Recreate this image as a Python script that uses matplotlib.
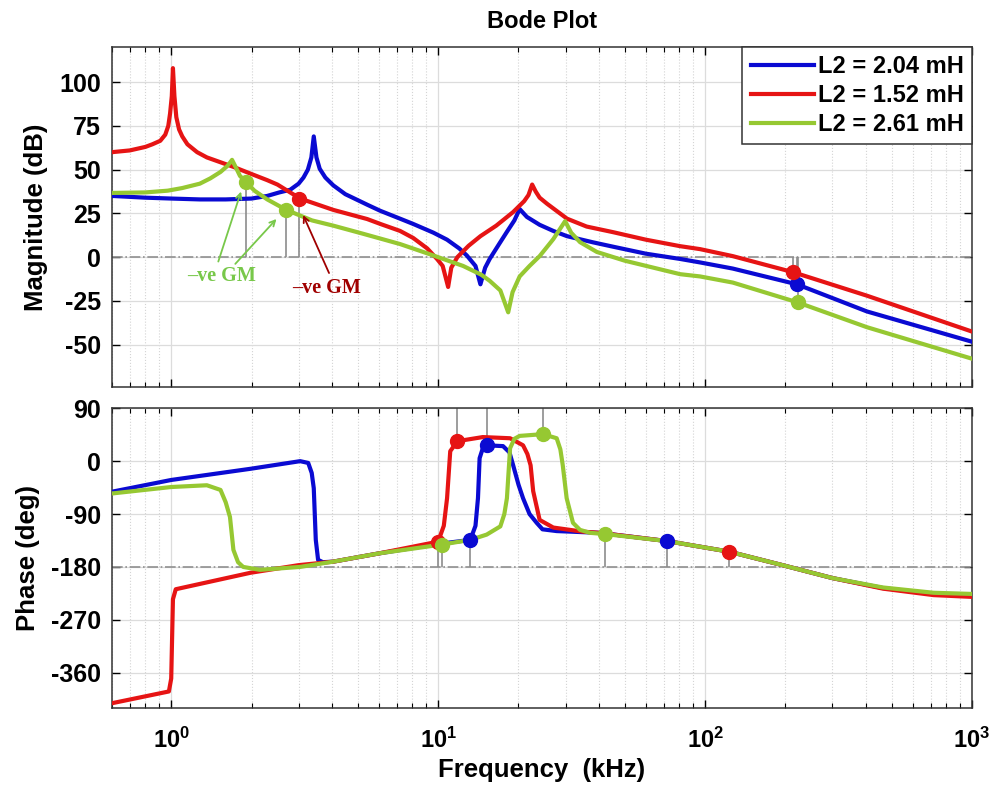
import numpy as np
import matplotlib
matplotlib.use("Agg")
from matplotlib import pyplot as plt
from matplotlib.ticker import LogLocator, NullFormatter

plt.rcParams["font.family"] = ["Liberation Sans", "DejaVu Sans"]
plt.rcParams["font.weight"] = "bold"
plt.rcParams["axes.unicode_minus"] = False
plt.rcParams["mathtext.fontset"] = "custom"
plt.rcParams["mathtext.rm"] = "Liberation Sans:bold"
plt.rcParams["mathtext.bf"] = "Liberation Sans:bold"
plt.rcParams["mathtext.default"] = "bf"

labels = ["L2 = 2.04 mH", "L2 = 1.52 mH", "L2 = 2.61 mH"]

# magnitude (dB) vs frequency (kHz)
blue_mag_f = [0.6, 0.8, 1.0, 1.28, 1.6, 2.0, 2.29, 2.54, 2.79, 3.0, 3.13, 3.25, 3.35, 3.42,
              3.5, 3.6, 3.78, 4.05, 4.49, 5.42, 6.07, 7.2, 8.06, 9.6, 10.8, 12.0, 12.8,
              13.8, 14.4, 15.0, 15.6, 17.0, 18.1, 19.3, 20.2, 21.5, 24.0, 27.0, 30.4, 38,
              45.2, 60, 80.6, 95.8, 127, 221, 404, 1000]
blue_mag = [35, 34, 33.5, 33, 33, 33.5, 35, 37, 38.5, 42, 45.5, 50, 57, 69,
            57, 50.5, 45.5, 41, 36, 30, 26.5, 22, 19, 14, 10, 5, 1,
            -5, -15.5, -6, -1, 8, 14.5, 21, 27.5, 23, 18.5, 15, 12, 8.5,
            6, 2, -1, -3, -6.5, -15.5, -31, -48.3]

red_mag_f = [0.6, 0.7, 0.8, 0.85, 0.91, 0.95, 0.975, 0.99, 1.005, 1.015, 1.028, 1.045,
             1.07, 1.1, 1.15, 1.25, 1.36, 1.71, 2.0, 2.29, 2.5, 3.04, 4.05, 5.42, 6.07,
             7.2, 8.06, 9.1, 9.9, 10.4, 10.9, 11.2, 11.8, 13, 14.4, 16.5, 19.1, 21.0,
             21.8, 22.5, 23.2, 24.0, 25.6, 30.4, 36, 45.2, 60, 80.6, 95.8, 127, 214,
             404, 1000]
red_mag = [60, 61, 63, 64.5, 66.5, 70, 75, 82, 92, 108, 92, 80,
           73, 69, 64.5, 60, 57, 51.6, 47.5, 44, 41.5, 33.5, 27, 21.8, 19,
           15, 11, 5, -1, -5, -17, -6, 0, 6.5, 12, 18, 25.8, 32,
           35.5, 41.5, 37.5, 34, 30.5, 22, 17.5, 14.3, 10, 6.3, 4.6, 0.6, -8.6,
           -22, -42.5]

green_mag_f = [0.6, 0.8, 0.97, 1.1, 1.28, 1.4, 1.53, 1.62, 1.66, 1.69, 1.75, 1.81, 1.90,
               2.05, 2.29, 2.70, 3.37, 4.05, 5.2, 7.2, 9.3, 12.4, 14.5, 15.6, 17.1, 18.3,
               19.0, 20.2, 22, 24, 27, 29.9, 31.5, 34, 39.3, 50, 80.6, 95.8, 127, 222,
               404, 1000]
green_mag = [36.7, 37, 38, 39.5, 42, 45, 48.7, 52, 54, 55.6, 51, 46.4, 43.2,
             38, 33, 27, 21, 18, 13.5, 7.5, 1.7, -5, -10, -13.5, -19, -31.5,
             -20, -11, -5, 0.6, 10.3, 20.6, 14, 8.6, 3, -2, -9.7, -11, -14.5, -25.8,
             -40, -58]

# phase (deg) vs frequency (kHz)
blue_ph_f = [0.6, 1.0, 1.98, 3.04, 3.26, 3.36, 3.42, 3.48, 3.55, 3.7, 4.05, 6, 10, 13.2,
             13.8, 14.1, 14.3, 14.7, 15.2, 17.5, 18.5, 19.1, 20.0, 20.8, 22, 23.4, 24.6,
             27.8, 40.3, 72, 123, 195, 300, 464, 718, 1000]
blue_ph = [-52, -32, -13, 0, -3, -20, -46, -134, -168, -172, -171, -157, -141, -134,
           -110, -63, 5, 22, 27, 25.6, 15, -7, -40, -63, -90, -105, -116,
           -119, -122, -136, -154, -177, -199, -216, -226, -229]

red_ph_f = [0.6, 0.98, 1.0, 1.015, 1.04, 1.98, 3.0, 4.05, 6, 10.0, 10.5, 10.8, 11.1, 11.8,
            14.7, 18.6, 20.8, 21.6, 22.2, 22.7, 24.0, 27.0, 34.8, 40.3, 72, 123, 195, 300,
            464, 718, 1000]
red_ph = [-412, -392, -370, -235, -218, -190, -177, -171, -157, -137, -110, -63, 17, 34,
          41, 39, 27, 12, -7, -51, -100, -113, -120, -122, -136, -154, -177, -199,
          -217, -228, -231]

green_ph_f = [0.6, 1.0, 1.36, 1.53, 1.6, 1.66, 1.71, 1.78, 1.86, 2.15, 3.04, 4.05, 6, 10.3,
              13.2, 15.2, 17.1, 17.7, 18.1, 18.6, 19.3, 20.2, 24.7, 27.8, 28.7, 29.3, 30.3,
              32, 34, 37.1, 42, 72, 123, 195, 300, 464, 718, 1000]
green_ph = [-55, -44, -41, -49, -70, -95, -151, -172, -180, -185, -180, -171, -157, -142,
            -134, -125, -111, -90, -63, 22, 38, 43, 46, 39, 20, -7, -63,
            -105, -117, -122, -124, -136, -154, -177, -199, -215, -224, -226]

# margin markers
blue_gm_f, blue_gm = [221], [-15.5]
red_gm_f, red_gm = [3.0, 214], [33, -8.6]
green_gm_f, green_gm = [1.90, 2.70, 222], [43.2, 27, -25.8]
blue_pm_f, blue_pm = [13.2, 15.2, 72], [-134, 27, -136]
red_pm_f, red_pm = [10.0, 11.8, 123], [-137, 34, -154]
green_pm_f, green_pm = [10.3, 24.7, 42], [-142, 46, -124]

colors = ["#0a0ad2", "#e61414", "#96c832"]

fig = plt.figure(figsize=(10, 7.99), dpi=100)
ax1 = fig.add_axes([0.112, 0.516, 0.860, 0.425])
ax2 = fig.add_axes([0.112, 0.114, 0.860, 0.375], sharex=ax1)

mags = [(blue_mag_f, blue_mag), (red_mag_f, red_mag), (green_mag_f, green_mag)]
phs = [(blue_ph_f, blue_ph), (red_ph_f, red_ph), (green_ph_f, green_ph)]
gms = [(blue_gm_f, blue_gm), (red_gm_f, red_gm), (green_gm_f, green_gm)]
pms = [(blue_pm_f, blue_pm), (red_pm_f, red_pm), (green_pm_f, green_pm)]

# reference lines
ax1.axhline(0, color="#909090", lw=1.2, ls="-.", zorder=1)
ax2.axhline(-180, color="#909090", lw=1.2, ls="-.", zorder=1)

# stems
for (f, v) in gms:
    ax1.vlines(f, v, 0, color="#8c8c8c", lw=1.2, zorder=2)
for (f, v) in pms:
    v = np.array(v)
    ax2.vlines(f, v, np.where(v < 0, -180, 180), color="#8c8c8c", lw=1.2, zorder=2)

for c, lab, (f, m), (pf, p) in zip(colors, labels, mags, phs):
    ax1.plot(f, m, color=c, lw=3, label=lab, zorder=3, solid_joinstyle="round")
    ax2.plot(pf, p, color=c, lw=3, zorder=3, solid_joinstyle="round")
for c, (f, v) in zip(colors, gms):
    ax1.plot(f, v, "o", color=c, ms=10, zorder=4)
for c, (f, v) in zip(colors, pms):
    ax2.plot(f, v, "o", color=c, ms=10, zorder=4)

ax1.set_xscale("log")
ax1.set_xlim(0.6, 1000)
ax1.set_ylim(-74, 120)
ax1.set_yticks([-50, -25, 0, 25, 50, 75, 100])
ax2.set_ylim(-420, 90)
ax2.set_yticks([-360, -270, -180, -90, 0, 90])

for ax in (ax1, ax2):
    ax.xaxis.set_major_locator(LogLocator(base=10, numticks=10))
    ax.xaxis.set_minor_locator(LogLocator(base=10, subs=np.arange(2, 10), numticks=20))
    ax.xaxis.set_minor_formatter(NullFormatter())
    ax.tick_params(which="both", direction="in", top=True, right=True, labelsize=18)
    ax.tick_params(which="major", length=6, width=1)
    ax.tick_params(which="minor", length=3.5, width=0.8)
    ax.tick_params(axis="y", pad=8)
    ax.grid(which="major", color="#dcdcdc", lw=0.9, ls="-")
    ax.grid(which="minor", axis="x", color="#d4d4d4", lw=0.8, ls=":")
    for s in ax.spines.values():
        s.set_color("#333333")
        s.set_linewidth(1.1)
    ax.set_axisbelow(True)

ax1.tick_params(axis="x", labelbottom=False)
ax2.tick_params(axis="x", pad=14, labelsize=17)

ax1.set_ylabel("Magnitude (dB)", fontsize=18.5, fontweight="bold", labelpad=8)
ax2.set_ylabel("Phase (deg)", fontsize=18.5, fontweight="bold", labelpad=8)
ax2.set_xlabel("Frequency  (kHz)", fontsize=18.5, fontweight="bold", labelpad=4)
ax1.set_title("Bode Plot", fontsize=17, fontweight="bold", pad=14)

leg = ax1.legend(loc="upper right", borderaxespad=0, fancybox=False, framealpha=1,
                 edgecolor="#333333", fontsize=17, handlelength=2.7, handletextpad=0.15,
                 labelspacing=0.25, borderpad=0.35)
leg.get_frame().set_linewidth(1.1)
for t in leg.get_texts():
    t.set_fontweight("bold")

# "-ve GM" annotations
green_txt = "#78c84a"
red_txt = "#a00000"
ax1.text(1.55, -11, "\u2013ve GM", color=green_txt, fontsize=14.5, fontweight="bold",
         family="Liberation Serif", ha="center", va="center")
ax1.annotate("", xy=(1.84, 39), xytext=(1.49, -4),
             arrowprops=dict(arrowstyle="->", color=green_txt, lw=1.3))
ax1.annotate("", xy=(2.52, 23), xytext=(1.71, -5),
             arrowprops=dict(arrowstyle="->", color=green_txt, lw=1.3))
ax1.text(3.81, -17.5, "\u2013ve GM", color=red_txt, fontsize=14.5, fontweight="bold",
         family="Liberation Serif", ha="center", va="center")
ax1.annotate("", xy=(3.09, 25.5), xytext=(3.94, -10.5),
             arrowprops=dict(arrowstyle="->", color=red_txt, lw=1.3))

fig.savefig("out.png", dpi=100)
